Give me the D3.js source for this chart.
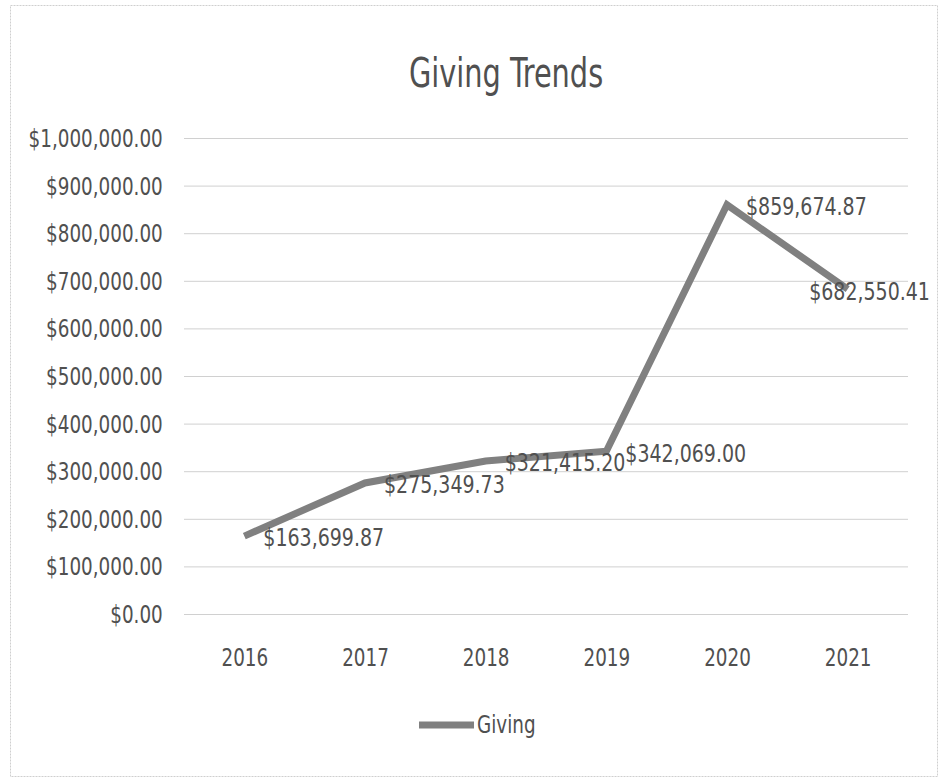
<!DOCTYPE html>
<html>
<head>
<meta charset="utf-8">
<script src="https://cdn.jsdelivr.net/npm/d3@7"></script>
<style>
  body { margin: 0; background: #fff; }
  text { font-family: "Liberation Sans Narrow", "DejaVu Sans Condensed", "Liberation Sans", sans-serif; fill: #505050; }
</style>
</head>
<body>
<svg id="chart" width="949" height="778"></svg>
<script>
// chart data
const years = ['2016', '2017', '2018', '2019', '2020', '2021']
const giving = [163699.87, 275349.73, 321415.20, 342069.00, 859674.87, 682550.41]
const yTicks = [0, 100000, 200000, 300000, 400000, 500000, 600000, 700000, 800000, 900000, 1000000]
const seriesName = 'Giving'
const title = 'Giving Trends'

const width = 949
const height = 778
const margin = { top: 138, right: 41, bottom: 164, left: 184 }
const lineColor = '#808080'
const fontSize = 24
const squeeze = 0.85 // the scanned font is narrower than anything installed
const labelSqueeze = 0.88

const money = (v) => '$' + d3.format(',.2f')(v)

const svg = d3.select('#chart')

// outer chart frame
svg.append('rect')
	.attr('x', 10.5)
	.attr('y', 5.5)
	.attr('width', 927)
	.attr('height', 771)
	.attr('fill', '#fff')
	.attr('stroke', '#cfcfcf')
	.attr('stroke-dasharray', '2,1')

const x = d3.scalePoint()
	.domain(years)
	.range([margin.left, width - margin.right])
	.padding(0.5)

const y = d3.scaleLinear()
	.domain([0, 1000000])
	.range([height - margin.bottom, margin.top])

// title
svg.append('text')
	.attr('transform', 'translate(506,87) scale(0.8,1)')
	.attr('text-anchor', 'middle')
	.attr('font-size', 40)
	.attr('fill', '#4a4a4a')
	.text(title)

// gridlines + y labels
const yAxis = d3.axisLeft(y)
	.tickValues(yTicks)
	.tickFormat(money)
	.tickSize(-(width - margin.left - margin.right))

svg.append('g')
	.attr('transform', `translate(${margin.left},0)`)
	.call(yAxis)
	.call((g) => g.select('.domain').remove())
	.call((g) => g.selectAll('line').attr('stroke', '#d0d0d0'))
	.call((g) => g.selectAll('text')
		.attr('font-size', fontSize)
		.attr('fill', '#505050')
		.attr('x', -25)
		.attr('dy', '0.35em')
		.attr('transform', `scale(${squeeze},1)`))

// x labels
const xAxis = d3.axisBottom(x)
	.tickSize(0)
	.tickPadding(35)

svg.append('g')
	.attr('transform', `translate(0,${height - margin.bottom})`)
	.call(xAxis)
	.call((g) => g.select('.domain').remove())
	.call((g) => g.selectAll('text')
		.attr('font-size', fontSize)
		.attr('fill', '#505050')
		.attr('transform', `scale(${squeeze},1)`))

// series line
const line = d3.line()
	.x((d, i) => x(years[i]))
	.y((d) => y(d))

svg.append('path')
	.datum(giving)
	.attr('d', line)
	.attr('fill', 'none')
	.attr('stroke', lineColor)
	.attr('stroke-width', 7)
	.attr('stroke-linejoin', 'miter')

// data labels, placed right of each point (pushed back in at the chart edge)
const labels = svg.append('g')
	.selectAll('text')
	.data(giving)
	.enter().append('text')
		.attr('font-size', fontSize)
		.attr('fill', '#444')
		.attr('dy', '0.35em')
		.text(money)

labels.attr('transform', function (d, i) {
	const w = this.getComputedTextLength() * labelSqueeze
	const lx = Math.min(x(years[i]) + 19, 930 - w)
	return `translate(${lx},${y(d) + 2}) scale(${labelSqueeze},1)`
})

// legend
const legend = svg.append('g')
	.attr('transform', 'translate(419,725)')

legend.append('line')
	.attr('x1', 0)
	.attr('x2', 55)
	.attr('stroke', lineColor)
	.attr('stroke-width', 7)

legend.append('text')
	.attr('transform', `translate(58,0) scale(${squeeze},1)`)
	.attr('dy', '0.35em')
	.attr('font-size', fontSize)
	.text(seriesName)
</script>
</body>
</html>
